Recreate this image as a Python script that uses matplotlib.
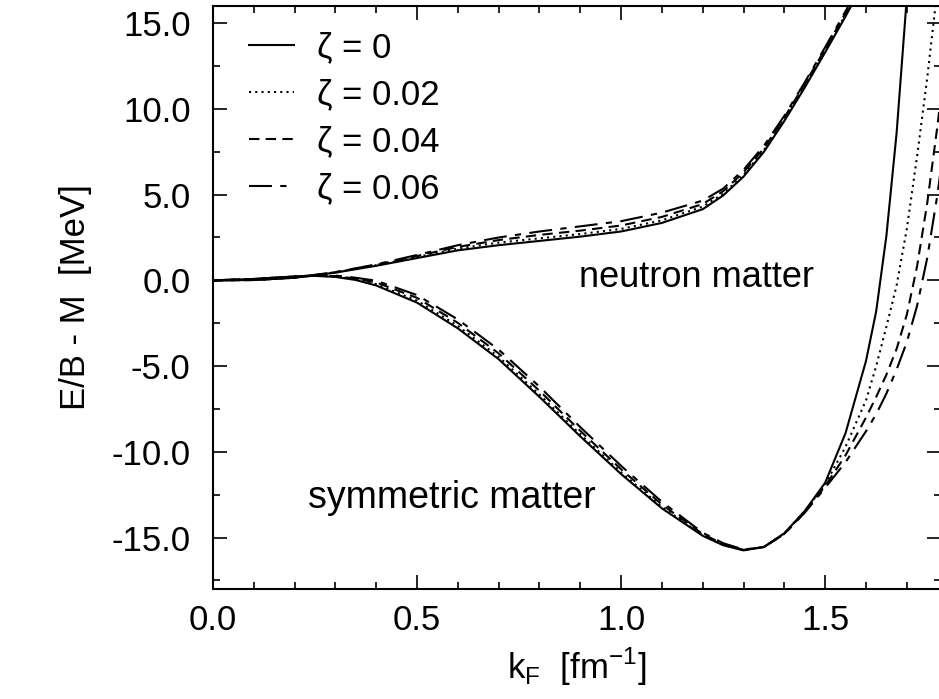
import matplotlib
matplotlib.use("Agg")
import matplotlib.pyplot as plt
from matplotlib.ticker import MultipleLocator

plt.rcParams['font.family'] = ['Liberation Sans', 'DejaVu Sans']

# symmetric matter, E/B - M [MeV] vs k_F [fm^-1]
kf_sym = [0.0, 0.1, 0.2, 0.25, 0.3, 0.35, 0.4, 0.5, 0.6, 0.7, 0.8, 0.9, 1.0, 1.1,
          1.2, 1.25, 1.3, 1.35, 1.4, 1.45, 1.5, 1.55, 1.6, 1.625, 1.65, 1.675,
          1.7, 1.725, 1.75, 1.775, 1.8]
sym_z0 = [0.0, 0.08, 0.22, 0.26, 0.2, 0.02, -0.3, -1.3, -2.8, -4.6, -6.8, -9.1, -11.3, -13.3,
          -14.9, -15.45, -15.75, -15.55, -14.75, -13.45, -11.8, -8.9, -4.7, -1.8, 2.6, 8.6,
          16.5, 25.0, 35.0, 45.0, 55.0]
sym_z2 = [0.0, 0.08, 0.22, 0.27, 0.22, 0.06, -0.22, -1.18, -2.66, -4.46, -6.66, -8.98, -11.2, -13.22,
          -14.86, -15.42, -15.74, -15.55, -14.75, -13.45, -11.9, -9.7, -7.0, -5.0, -2.7, -0.3,
          3.0, 7.2, 11.8, 17.0, 23.0]
sym_z4 = [0.0, 0.08, 0.23, 0.28, 0.25, 0.1, -0.12, -1.02, -2.48, -4.26, -6.44, -8.78, -11.02, -13.08,
          -14.8, -15.38, -15.72, -15.55, -14.78, -13.5, -12.0, -10.2, -8.0, -6.8, -5.5, -4.0,
          -2.0, 0.8, 4.5, 9.0, 14.0]
sym_z6 = [0.0, 0.08, 0.23, 0.29, 0.28, 0.15, -0.02, -0.86, -2.28, -4.04, -6.2, -8.56, -10.82, -12.92,
          -14.72, -15.33, -15.7, -15.55, -14.8, -13.55, -12.1, -10.6, -8.8, -7.8, -6.6, -5.2,
          -3.6, -1.5, 1.3, 5.0, 9.5]

# neutron matter
kf_neu = [0.0, 0.1, 0.2, 0.3, 0.4, 0.5, 0.6, 0.7, 0.8, 0.9, 1.0, 1.1, 1.2, 1.25,
          1.3, 1.35, 1.4, 1.45, 1.5, 1.55, 1.6]
neu_z0 = [0.0, 0.02, 0.15, 0.45, 0.85, 1.3, 1.75, 2.05, 2.3, 2.55, 2.85, 3.35, 4.15, 4.95,
          6.05, 7.5, 9.3, 11.25, 13.3, 15.4, 17.6]
neu_z2 = [0.0, 0.02, 0.15, 0.46, 0.88, 1.36, 1.85, 2.2, 2.45, 2.7, 3.0, 3.5, 4.3, 5.05,
          6.15, 7.6, 9.4, 11.35, 13.4, 15.5, 17.7]
neu_z4 = [0.0, 0.02, 0.16, 0.47, 0.9, 1.42, 1.95, 2.35, 2.65, 2.9, 3.2, 3.7, 4.45, 5.2,
          6.3, 7.7, 9.5, 11.45, 13.5, 15.6, 17.8]
neu_z6 = [0.0, 0.02, 0.16, 0.48, 0.93, 1.48, 2.05, 2.5, 2.85, 3.15, 3.45, 3.95, 4.65, 5.35,
          6.45, 7.85, 9.6, 11.55, 13.6, 15.7, 17.9]

labels = ["ζ = 0", "ζ = 0.02", "ζ = 0.04", "ζ = 0.06"]
styles = ["-", (0, (1, 2)), (0, (5, 3)), (0, (11, 4, 3, 4))]
sym_series = [sym_z0, sym_z2, sym_z4, sym_z6]
neu_series = [neu_z0, neu_z2, neu_z4, neu_z6]

fig = plt.figure(figsize=(9.39, 6.99), dpi=100)
ax = fig.add_axes([0.2268, 0.1574, 0.775, 0.834])

for lab, ls, s, n in zip(labels, styles, sym_series, neu_series):
    ax.plot(kf_sym, s, color="black", lw=1.5, linestyle=ls, label=lab)
    ax.plot(kf_neu, n, color="black", lw=1.5, linestyle=ls)

ax.set_xlim(0, 1.783)
ax.set_ylim(-18, 16)
ax.xaxis.set_major_locator(MultipleLocator(0.5))
ax.xaxis.set_minor_locator(MultipleLocator(0.1))
ax.yaxis.set_major_locator(MultipleLocator(5))
ax.yaxis.set_minor_locator(MultipleLocator(2.5))
ax.xaxis.set_major_formatter(matplotlib.ticker.FormatStrFormatter("%.1f"))
ax.yaxis.set_major_formatter(matplotlib.ticker.FormatStrFormatter("%.1f"))
ax.tick_params(which="both", direction="in", top=True, right=True, width=1.2)
ax.tick_params(which="major", length=10, labelsize=25)
ax.tick_params(axis="x", which="major", pad=11)
ax.tick_params(axis="y", which="major", pad=16)
ax.tick_params(which="minor", length=5)
for sp in ax.spines.values():
    sp.set_linewidth(1.5)

ax.set_xlabel(r"k$_\mathregular{F}$  [fm$^\mathregular{-1}$]", fontsize=25, labelpad=6)
ax.set_ylabel("E/B - M  [MeV]", fontsize=25, labelpad=14)

ax.text(0.897, -0.4, "neutron matter", fontsize=26)
ax.text(0.233, -13.3, "symmetric matter", fontsize=27)

ax.legend(loc="upper left", bbox_to_anchor=(0.05, 0.957), frameon=False, fontsize=25,
          handlelength=1.3, handletextpad=0.65, labelspacing=0.4, borderpad=0,
          borderaxespad=0)

fig.savefig("out.png", dpi=100)
